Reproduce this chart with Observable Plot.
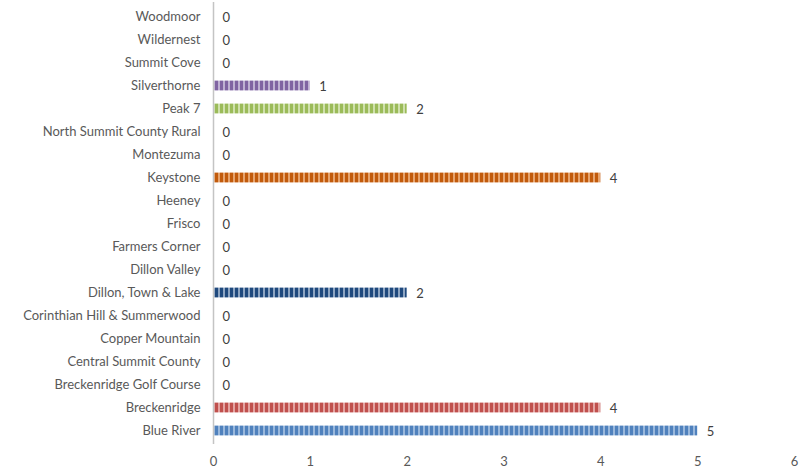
<!DOCTYPE html>
<html>
<head>
<meta charset="utf-8">
<script src="https://cdn.jsdelivr.net/npm/d3@7"></script>
<script src="https://cdn.jsdelivr.net/npm/@observablehq/plot@0.6"></script>
<style>
  body { margin: 0; background: #fff; }
  #chart svg { display: block; }
</style>
</head>
<body>
<div id="chart"></div>
<script>
// Communities, listed top to bottom
const communities = [
  "Woodmoor", "Wildernest", "Summit Cove", "Silverthorne", "Peak 7",
  "North Summit County Rural", "Montezuma", "Keystone", "Heeney", "Frisco",
  "Farmers Corner", "Dillon Valley", "Dillon, Town & Lake",
  "Corinthian Hill & Summerwood", "Copper Mountain", "Central Summit County",
  "Breckenridge Golf Course", "Breckenridge", "Blue River"
];
const counts = [0, 0, 0, 1, 2, 0, 0, 4, 0, 0, 0, 0, 2, 0, 0, 0, 0, 4, 5];
const xTicks = [0, 1, 2, 3, 4, 5, 6];

// Striped fills: [dark stripe, light stripe] per community
const stripeColors = {
  "Silverthorne": ["#8064a2", "#bfb1d2"],
  "Peak 7": ["#9bbb59", "#cfe0ad"],
  "Keystone": ["#c25b0c", "#e6a46f"],
  "Dillon, Town & Lake": ["#1f497d", "#8ea5c2"],
  "Breckenridge": ["#c0504d", "#e3a3a1"],
  "Blue River": ["#4f81bd", "#9ab8dc"]
};
const patternId = name => "stripe-" + communities.indexOf(name);

const data = communities.map((name, i) => ({name, count: counts[i]}));
const font = "Lato, 'Open Sans', sans-serif";

const chart = Plot.plot({
  width: 806,
  height: 470,
  marginLeft: 213,
  marginRight: 12,
  marginTop: 2,
  marginBottom: 26,
  style: {fontFamily: font, fontSize: "13px", color: "#595959", background: "#fff"},
  x: {domain: [0, 6], ticks: xTicks, tickFormat: "d", tickSize: 0, tickPadding: 12, label: null},
  y: {domain: communities, padding: 0, tickSize: 0, tickPadding: 13, label: null},
  color: {type: "identity"},
  marks: [
    Plot.barX(data.filter(d => d.count > 0), {
      y: "name",
      x: "count",
      insetTop: 6.6,
      insetBottom: 6.6,
      fill: d => `url(#${patternId(d.name)})`
    }),
    Plot.ruleX([0], {stroke: "#c4c4c4", strokeWidth: 1.5}),
    Plot.text(data, {
      y: "name",
      x: "count",
      text: d => String(d.count),
      textAnchor: "start",
      dx: 9,
      dy: 1,
      fill: "#404040",
      fontSize: 13
    })
  ]
});

// Vertical-stripe patterns used by the bars
const ns = "http://www.w3.org/2000/svg";
const defs = document.createElementNS(ns, "defs");
for (const [name, [dark, light]] of Object.entries(stripeColors)) {
  const p = document.createElementNS(ns, "pattern");
  p.setAttribute("id", patternId(name));
  p.setAttribute("patternUnits", "userSpaceOnUse");
  p.setAttribute("width", 5);
  p.setAttribute("height", 10);
  p.setAttribute("x", 213);
  const bg = document.createElementNS(ns, "rect");
  bg.setAttribute("width", 5);
  bg.setAttribute("height", 10);
  bg.setAttribute("fill", light);
  const fg = document.createElementNS(ns, "rect");
  fg.setAttribute("x", 2);
  fg.setAttribute("width", 3);
  fg.setAttribute("height", 10);
  fg.setAttribute("fill", dark);
  p.append(bg, fg);
  defs.append(p);
}
chart.insertBefore(defs, chart.firstChild);
document.getElementById("chart").append(chart);
</script>
</body>
</html>
